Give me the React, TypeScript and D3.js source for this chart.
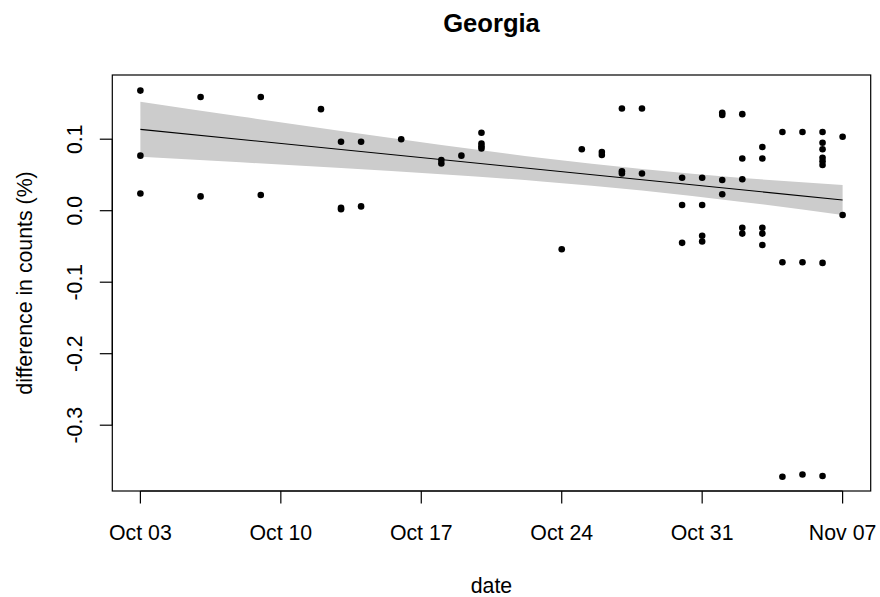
import React from "react";
import * as d3 from "d3";

// ---- Data ----
const pointDates: string[] = [
  "2020-10-03", "2020-10-03", "2020-10-03",
  "2020-10-06", "2020-10-06",
  "2020-10-09", "2020-10-09",
  "2020-10-12",
  "2020-10-13", "2020-10-13", "2020-10-13",
  "2020-10-14", "2020-10-14",
  "2020-10-16",
  "2020-10-18", "2020-10-18",
  "2020-10-19",
  "2020-10-20", "2020-10-20", "2020-10-20", "2020-10-20",
  "2020-10-24",
  "2020-10-25",
  "2020-10-26", "2020-10-26",
  "2020-10-27", "2020-10-27", "2020-10-27",
  "2020-10-28", "2020-10-28",
  "2020-10-30", "2020-10-30", "2020-10-30",
  "2020-10-31", "2020-10-31", "2020-10-31", "2020-10-31",
  "2020-11-01", "2020-11-01", "2020-11-01", "2020-11-01",
  "2020-11-02", "2020-11-02", "2020-11-02", "2020-11-02", "2020-11-02",
  "2020-11-03", "2020-11-03", "2020-11-03", "2020-11-03", "2020-11-03",
  "2020-11-04", "2020-11-04", "2020-11-04",
  "2020-11-05", "2020-11-05", "2020-11-05",
  "2020-11-06", "2020-11-06", "2020-11-06", "2020-11-06", "2020-11-06", "2020-11-06", "2020-11-06", "2020-11-06",
  "2020-11-07", "2020-11-07",
];
const pointValues: number[] = [
  0.168, 0.077, 0.024,
  0.159, 0.020,
  0.159, 0.022,
  0.142,
  0.0965, 0.004, 0.002,
  0.0965, 0.006,
  0.100,
  0.071, 0.066,
  0.077,
  0.109, 0.094, 0.090, 0.087,
  -0.054,
  0.086,
  0.082, 0.078,
  0.143, 0.055, 0.052,
  0.143, 0.052,
  0.046, 0.008, -0.045,
  0.046, 0.008, -0.035, -0.043,
  0.137, 0.134, 0.043, 0.023,
  0.135, 0.073, 0.044, -0.024, -0.032,
  0.089, 0.073, -0.024, -0.032, -0.048,
  0.110, -0.072, -0.372,
  0.110, -0.072, -0.369,
  0.110, 0.095, 0.086, 0.074, 0.069, 0.064, -0.073, -0.371,
  0.1035, -0.006,
];

const fitDates: string[] = ["2020-10-03", "2020-11-07"];
const fitValues: number[] = [0.1138, 0.0150];

const bandDates: string[] = [
  "2020-10-03", "2020-10-08", "2020-10-13", "2020-10-18",
  "2020-10-23", "2020-10-28", "2020-11-02", "2020-11-07",
];
const bandUpper: number[] = [0.1523, 0.1317, 0.1115, 0.0920, 0.0737, 0.0582, 0.0459, 0.0360];
const bandLower: number[] = [0.0753, 0.0677, 0.0597, 0.0510, 0.0409, 0.0282, 0.0123, -0.0060];

const xTickDates: string[] = ["2020-10-03", "2020-10-10", "2020-10-17", "2020-10-24", "2020-10-31", "2020-11-07"];
const yTickValues: number[] = [-0.3, -0.2, -0.1, 0.0, 0.1];

const title = "Georgia";
const xLabel = "date";
const yLabel = "difference in counts (%)";

// ---- Layout ----
const W = 880;
const H = 597;
const plotLeft = 112.3;
const plotRight = 870.7;
const plotTop = 75;
const plotBottom = 491;
const FONT = "'Liberation Sans', Arial, Helvetica, sans-serif";
const fs = 21.3;

const parse = (s: string) => {
  const [y, m, d] = s.split("-").map(Number);
  return new Date(Date.UTC(y, m - 1, d));
};
const DAY = 86400000;

export default function App() {
  const d0 = parse("2020-10-03").getTime();
  const d1 = parse("2020-11-07").getTime();
  const pad = (d1 - d0) * 0.04;
  const x = d3.scaleUtc().domain([new Date(d0 - pad), new Date(d1 + pad)]).range([plotLeft, plotRight]);
  const y = d3.scaleLinear().domain([-0.39203, 0.18979]).range([plotBottom, plotTop]);
  const fmt = d3.utcFormat("%b %d");

  const band = bandDates.map((d, i) => ({ d: parse(d), lo: bandLower[i], hi: bandUpper[i] }));
  const areaGen = d3
    .area<{ d: Date; lo: number; hi: number }>()
    .x((p) => x(p.d))
    .y0((p) => y(p.lo))
    .y1((p) => y(p.hi))
    .curve(d3.curveMonotoneX);

  const fit = fitDates.map((d, i) => ({ d: parse(d), v: fitValues[i] }));
  const lineGen = d3
    .line<{ d: Date; v: number }>()
    .x((p) => x(p.d))
    .y((p) => y(p.v));

  const pts = pointDates.map((d, i) => ({ d: parse(d), v: pointValues[i] }));
  const tickLen = 12.5;

  const xFirst = x(parse(xTickDates[0]));
  const xLast = x(parse(xTickDates[xTickDates.length - 1]));
  const yFirst = y(yTickValues[0]);
  const yLast = y(yTickValues[yTickValues.length - 1]);

  return (
    <svg
      width={W}
      height={H}
      style={{ position: "absolute", left: 0, top: 0, background: "#fff" }}
      fontFamily={FONT}
    >
      <rect x={0} y={0} width={W} height={H} fill="#fff" />
      <path d={areaGen(band) || ""} fill="#cccccc" stroke="none" />
      <path d={lineGen(fit) || ""} fill="none" stroke="#000" strokeWidth={1.1} />
      {pts.map((p, i) => (
        <circle key={i} cx={x(p.d)} cy={y(p.v)} r={3.3} fill="#000" />
      ))}
      <rect
        x={plotLeft}
        y={plotTop}
        width={plotRight - plotLeft}
        height={plotBottom - plotTop}
        fill="none"
        stroke="#000"
        strokeWidth={1.2}
      />
      {/* x axis */}
      <line x1={xFirst} x2={xLast} y1={plotBottom} y2={plotBottom} stroke="#000" strokeWidth={1.2} />
      {xTickDates.map((t) => {
        const px = x(parse(t));
        return (
          <g key={t}>
            <line x1={px} x2={px} y1={plotBottom} y2={plotBottom + tickLen} stroke="#000" strokeWidth={1.2} />
            <text x={px} y={540} textAnchor="middle" fontSize={fs} fill="#000">
              {fmt(parse(t))}
            </text>
          </g>
        );
      })}
      {/* y axis */}
      <line x1={plotLeft} x2={plotLeft} y1={yFirst} y2={yLast} stroke="#000" strokeWidth={1.2} />
      {yTickValues.map((v) => {
        const py = y(v);
        return (
          <g key={v}>
            <line x1={plotLeft - tickLen} x2={plotLeft} y1={py} y2={py} stroke="#000" strokeWidth={1.2} />
            <text
              transform={`translate(82,${py}) rotate(-90)`}
              textAnchor="middle"
              fontSize={fs}
              fill="#000"
            >
              {v.toFixed(1)}
            </text>
          </g>
        );
      })}
      <text
        x={(plotLeft + plotRight) / 2}
        y={32}
        textAnchor="middle"
        fontSize={25.6}
        fontWeight="bold"
        fill="#000"
      >
        {title}
      </text>
      <text x={(plotLeft + plotRight) / 2} y={593} textAnchor="middle" fontSize={fs} fill="#000">
        {xLabel}
      </text>
      <text
        transform={`translate(31.5,${(plotTop + plotBottom) / 2}) rotate(-90)`}
        textAnchor="middle"
        fontSize={fs}
        fill="#000"
      >
        {yLabel}
      </text>
    </svg>
  );
}
